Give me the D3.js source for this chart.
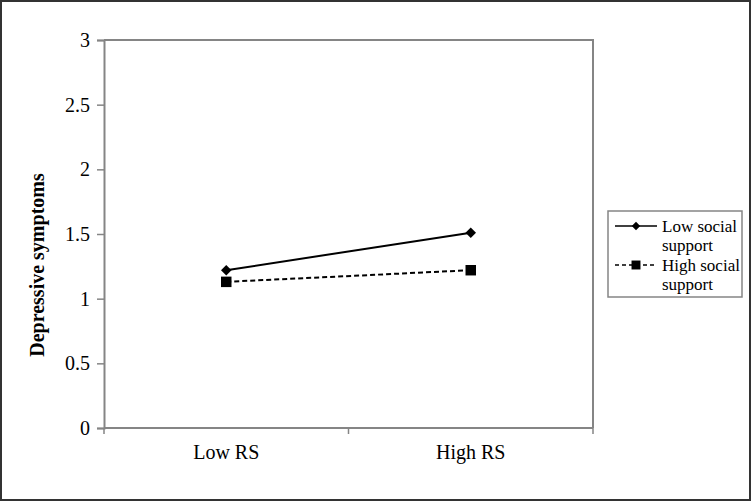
<!DOCTYPE html>
<html>
<head>
<meta charset="utf-8">
<script src="https://cdn.jsdelivr.net/npm/d3@7"></script>
<style>
  body { margin: 0; background: #fff; }
  svg { display: block; }
  svg text { font-family: "Liberation Serif", "Times New Roman", serif; fill: #000; }
</style>
</head>
<body>
<svg id="chart" width="751" height="501"></svg>
<script>
//data
var categories = ["Low RS", "High RS"];
var lowSupport = [1.22, 1.51];
var highSupport = [1.13, 1.22];
var seriesNames = ["Low social\nsupport", "High social\nsupport"];
var yTicks = [0, 0.5, 1, 1.5, 2, 2.5, 3];

//layout
var W = 751, H = 501;
var plot = {left: 104, top: 40, right: 593, bottom: 428};
var gray = "#858585";

var svg = d3.select("#chart");

//outer frame
svg.append("rect")
  .attr("x", 1).attr("y", 1)
  .attr("width", W - 2).attr("height", H - 2)
  .attr("fill", "#fff")
  .attr("stroke", "#333").attr("stroke-width", 2);

var x = d3.scaleBand()
  .domain(categories)
  .range([plot.left, plot.right]);

var y = d3.scaleLinear()
  .domain([0, 3])
  .range([plot.bottom, plot.top]);

//plot area border (top + right)
svg.append("path")
  .attr("d", `M${plot.left},${plot.top}H${plot.right}V${plot.bottom}`)
  .attr("fill", "none")
  .attr("stroke", gray).attr("stroke-width", 2);

//y axis
var yAxis = svg.append("g")
  .attr("transform", `translate(${plot.left},0)`)
  .call(d3.axisLeft(y).tickValues(yTicks).tickSize(7).tickPadding(7).tickFormat(d3.format("")));
yAxis.attr("font-family", null).attr("font-size", null);
yAxis.select(".domain").attr("stroke", gray).attr("stroke-width", 2);
yAxis.selectAll(".tick line").attr("stroke", gray).attr("stroke-width", 1.5);
yAxis.selectAll("text").style("font-size", "20px");

//x axis - ticks on category boundaries
var xAxis = svg.append("g")
  .attr("transform", `translate(0,${plot.bottom})`)
  .call(d3.axisBottom(x).tickSize(0).tickPadding(17));
xAxis.attr("font-family", null).attr("font-size", null);
xAxis.select(".domain").remove();
xAxis.append("line")
  .attr("x1", plot.left).attr("x2", plot.right)
  .attr("stroke", gray).attr("stroke-width", 2);
var bounds = [plot.left].concat(categories.map(function(c){ return x(c) + x.bandwidth(); }));
xAxis.selectAll(".bound")
  .data(bounds)
  .enter()
  .append("line")
  .attr("x1", function(d){ return d; }).attr("x2", function(d){ return d; })
  .attr("y1", 0).attr("y2", 6)
  .attr("stroke", gray).attr("stroke-width", 1.5);
xAxis.selectAll(".tick text").style("font-size", "20px");

//axis title
svg.append("text")
  .attr("transform", "translate(44,265) rotate(-90)")
  .attr("text-anchor", "middle")
  .style("font-size", "20px").style("font-weight", "bold")
  .text("Depressive symptoms");

//series
var line = d3.line()
  .x(function(d, i){ return x(categories[i]) + x.bandwidth() / 2; })
  .y(function(d){ return y(d); });

svg.append("path")
  .datum(lowSupport)
  .attr("d", line)
  .attr("fill", "none").attr("stroke", "#000").attr("stroke-width", 2);

svg.append("path")
  .datum(highSupport)
  .attr("d", line)
  .attr("fill", "none").attr("stroke", "#000").attr("stroke-width", 2)
  .attr("stroke-dasharray", "5,3");

var diamond = d3.symbol().type(d3.symbolDiamond2).size(70);
var square = d3.symbol().type(d3.symbolSquare).size(110);

svg.selectAll(".diamond")
  .data(lowSupport)
  .enter()
  .append("path")
  .attr("d", diamond)
  .attr("transform", function(d, i){ return `translate(${x(categories[i]) + x.bandwidth() / 2},${y(d)})`; })
  .attr("fill", "#000");

svg.selectAll(".square")
  .data(highSupport)
  .enter()
  .append("path")
  .attr("d", square)
  .attr("transform", function(d, i){ return `translate(${x(categories[i]) + x.bandwidth() / 2},${y(d)})`; })
  .attr("fill", "#000");

//legend
var legend = svg.append("g");
legend.append("rect")
  .attr("x", 608).attr("y", 211)
  .attr("width", 134).attr("height", 86)
  .attr("fill", "#fff").attr("stroke", gray).attr("stroke-width", 1.5);

var entries = [
  {name: seriesNames[0], y: 226, dash: null, sym: d3.symbol().type(d3.symbolDiamond2).size(45)},
  {name: seriesNames[1], y: 265, dash: "4,3", sym: d3.symbol().type(d3.symbolSquare).size(80)}
];
entries.forEach(function(e){
  legend.append("line")
    .attr("x1", 615).attr("x2", 657)
    .attr("y1", e.y).attr("y2", e.y)
    .attr("stroke", "#000").attr("stroke-width", 1.5)
    .attr("stroke-dasharray", e.dash);
  legend.append("path")
    .attr("d", e.sym)
    .attr("transform", `translate(636,${e.y})`)
    .attr("fill", "#000");
  var t = legend.append("text")
    .attr("x", 662).attr("y", e.y + 6)
    .style("font-size", "17px");
  e.name.split("\n").forEach(function(s, k){
    t.append("tspan").attr("x", 662).attr("dy", k === 0 ? 0 : 19).text(s);
  });
});
</script>
</body>
</html>
